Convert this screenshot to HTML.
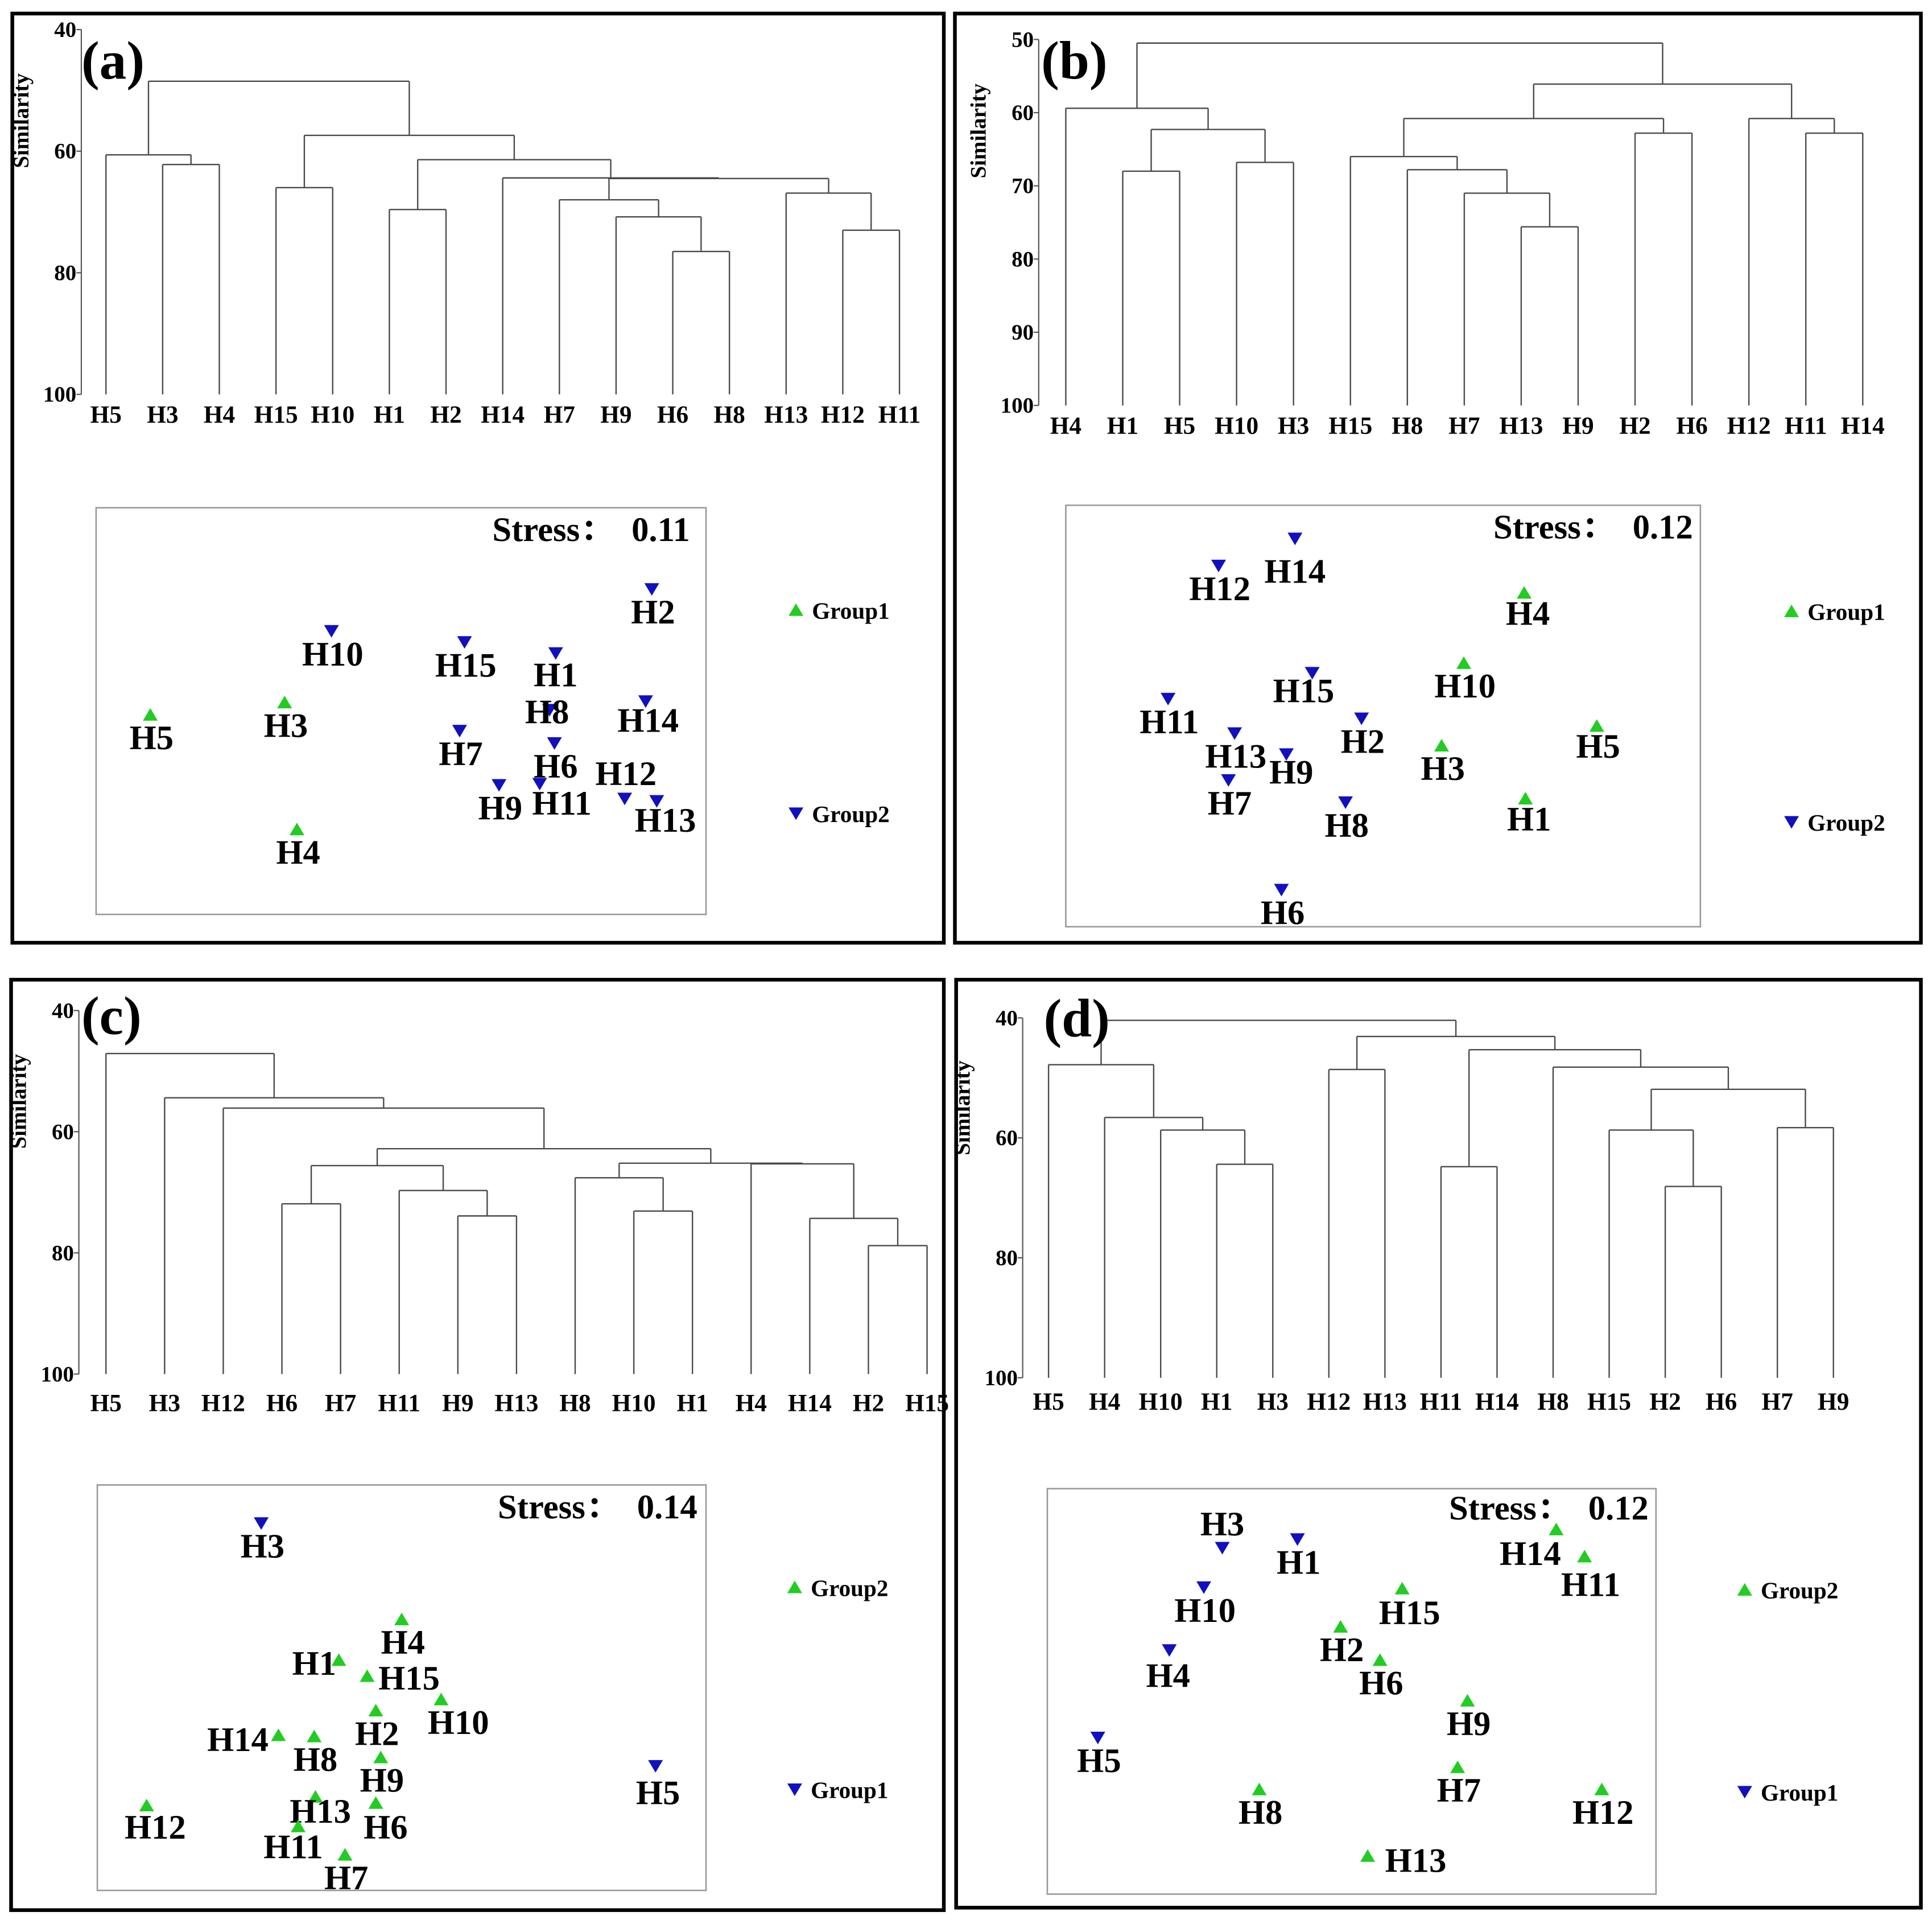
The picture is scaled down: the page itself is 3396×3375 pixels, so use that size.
<!DOCTYPE html>
<html><head><meta charset="utf-8">
<style>
html,body{margin:0;padding:0;background:#fff;}
svg{display:block;}
text{font-family:"Liberation Serif","Noto Serif CJK SC",serif;font-weight:bold;fill:#000;}
</style></head>
<body>
<svg id="fig" width="3396" height="3375" viewBox="0 0 1568 1558" preserveAspectRatio="none" xmlns="http://www.w3.org/2000/svg">
<rect x="0" y="0" width="1568" height="1558" fill="#fff"/>
<g id="root"></g>
</svg>
<script>
// ---------- Panel (a) ----------
const aLeaves = ["H5","H3","H4","H15","H10","H1","H2","H14","H7","H9","H6","H8","H13","H12","H11"];
const aMerges = [["H3","H4",62.2],["H5","#0",60.6],["H15","H10",66.0],["H1","H2",69.6],["H6","H8",76.5],["H9","#4",70.8],["H7","#5",68.0],["H12","H11",73.0],["H13","#7",66.9],["#6","#8",64.5],["H14","#9",64.4],["#3","#10",61.4],["#2","#11",57.4],["#1","#12",48.5]];
const aTicks = [40,60,80,100];
const aNames = ["H2","H10","H15","H1","H14","H8","H6","H7","H9","H11","H12","H13","H5","H3","H4"];
const aDim1 = [529,269,377,451,524,446,450,373,405,438,507,533,122,231,241];
const aDim2 = [478,512,521,530,569,576,603,593,637,636,648,650,580,570,673];
const aGroup = [2,2,2,2,2,2,2,2,2,2,2,2,1,1,1];
const aStress = "0.11";
// ---------- Panel (b) ----------
const bLeaves = ["H4","H1","H5","H10","H3","H15","H8","H7","H13","H9","H2","H6","H12","H11","H14"];
const bMerges = [["H1","H5",68.0],["H10","H3",66.8],["#0","#1",62.3],["H4","#2",59.4],["H13","H9",75.6],["H7","#4",71.0],["H8","#5",67.8],["H15","#6",66.0],["H2","H6",62.8],["#7","#8",60.8],["H11","H14",62.8],["H12","#10",60.8],["#9","#11",56.1],["#3","#12",50.5]];
const bTicks = [50,60,70,80,90,100];
const bNames = ["H12","H14","H4","H10","H15","H11","H2","H13","H3","H5","H9","H7","H8","H1","H6"];
const bDim1 = [989,1051,1237,1188,1065,948,1105,1002,1170,1296,1044,997,1092,1238,1040];
const bDim2 = [459,437,481,538,546,567,583,595,605,589,612,633,651,648,722];
const bGroup = [2,2,1,1,2,2,2,2,1,1,2,2,2,1,2];
const bStress = "0.12";
// ---------- Panel (c) ----------
const cLeaves = ["H5","H3","H12","H6","H7","H11","H9","H13","H8","H10","H1","H4","H14","H2","H15"];
const cMerges = [["H6","H7",71.9],["H9","H13",73.9],["H11","#1",69.7],["#0","#2",65.6],["H10","H1",73.1],["H8","#4",67.6],["H2","H15",78.8],["H14","#6",74.3],["H4","#7",65.3],["#5","#8",65.2],["#3","#9",62.8],["H12","#10",56.1],["H3","#11",54.4],["H5","#12",47.1]];
const cTicks = [40,60,80,100];
const cNames = ["H3","H4","H1","H15","H10","H2","H14","H8","H9","H13","H6","H12","H11","H7","H5"];
const cDim1 = [212,326,275,298,358,305,226,255,309,256,305,119,242,280,532];
const cDim2 = [1236,1314,1347,1360,1379,1388,1408,1409,1426,1458,1463,1465,1482,1505,1433];
const cGroup = [1,2,2,2,2,2,2,2,2,2,2,2,2,2,1];
const cStress = "0.14";
// ---------- Panel (d) ----------
const dLeaves = ["H5","H4","H10","H1","H3","H12","H13","H11","H14","H8","H15","H2","H6","H7","H9"];
const dMerges = [["H1","H3",64.4],["H10","#0",58.7],["H4","#1",56.6],["H5","#2",47.8],["H12","H13",48.6],["H11","H14",64.8],["H2","H6",68.1],["H15","#6",58.7],["H7","H9",58.3],["#7","#8",51.9],["H8","#9",48.2],["#5","#10",45.3],["#4","#11",43.1],["#3","#12",40.4]];
const dTicks = [40,60,80,100];
const dNames = ["H3","H1","H14","H11","H10","H15","H2","H6","H4","H9","H5","H7","H8","H12","H13"];
const dDim1 = [992,1053,1263,1286,977,1138,1088,1120,949,1191,891,1183,1022,1300,1110];
const dDim2 = [1256,1249,1241,1263,1288,1289,1320,1347,1339,1380,1410,1434,1452,1452,1506];
const dGroup = [1,1,2,2,1,2,2,2,1,2,1,2,2,2,2];
const dStress = "0.12";

const NS="http://www.w3.org/2000/svg";
const root=document.getElementById('root');
function mk(tag,attrs,parent){const e=document.createElementNS(NS,tag);for(const k in attrs)e.setAttribute(k,attrs[k]);(parent||root).appendChild(e);return e;}
function txt(s,attrs,parent){const e=mk('text',attrs,parent);e.textContent=s;return e;}

const panels=[
 {id:'a',letter:'(a)',leaves:aLeaves,merges:aMerges,ticks:aTicks,names:aNames,d1:aDim1,d2:aDim2,grp:aGroup,stress:aStress,
  frame:[10,11,756,754],axX:66,lx0:86,step:46,ymin:40,y0:24,y1:320,labY:343,letterXY:[66,64],
  box:[78,412,495,330],stressXY:[560,439],leg1:["Group1",1,646,495],leg2:["Group2",2,646,660],
  lab:{H8:[-2,10],H12:[1,-12],H13:[7,24],H11:[18,24],H1:[0,26],H14:[2,24]}},
 {id:'b',letter:'(b)',leaves:bLeaves,merges:bMerges,ticks:bTicks,names:bNames,d1:bDim1,d2:bDim2,grp:bGroup,stress:bStress,
  frame:[775,11,784,754],axX:843,lx0:865,step:46.2,ymin:50,y0:32,y1:329,labY:352,letterXY:[845,64],
  box:[865,410,515,342],stressXY:[1374,437],leg1:["Group1",1,1454,496],leg2:["Group2",2,1454,667],
  lab:{H14:[0,35],H15:[-7,23],H9:[4,23],H5:[1,25],H1:[3,25],H4:[3,25]}},
 {id:'c',letter:'(c)',leaves:cLeaves,merges:cMerges,ticks:cTicks,names:cNames,d1:cDim1,d2:cDim2,grp:cGroup,stress:cStress,
  frame:[9,795,757,755],axX:64,lx0:86,step:47.6,ymin:40,y0:820,y1:1115,labY:1145,letterXY:[66,839],
  box:[79,1205,494,329],stressXY:[566,1232],leg1:["Group2",2,645,1288],leg2:["Group1",1,645,1452],
  lab:{H1:[-20,11],H15:[34,10],H14:[-33,12],H13:[4,20],H12:[7,26],H11:[-4,25],H10:[14,27],H6:[8,28],H5:[2,30]}},
 {id:'d',letter:'(d)',leaves:dLeaves,merges:dMerges,ticks:dTicks,names:dNames,d1:dDim1,d2:dDim2,grp:dGroup,stress:dStress,
  frame:[776,795,783,753],axX:830,lx0:851,step:45.5,ymin:40,y0:826,y1:1118,labY:1144,letterXY:[847,841],
  box:[850,1208,494,329],stressXY:[1338,1233],leg1:["Group2",2,1416,1290],leg2:["Group1",1,1416,1454],
  lab:{H3:[0,-11],H14:[-21,28],H11:[5,31],H13:[39,12],H15:[6,28],H4:[-1,29]}}
];

function marker(g,grp,x,y,s){
  let pts;
  const up = (g.__up(grp));
  if(up) pts=`${x-s},${y+s*0.8} ${x+s},${y+s*0.8} ${x},${y-s*0.9}`;
  else pts=`${x-s},${y-s*0.8} ${x+s},${y-s*0.8} ${x},${y+s*0.9}`;
  return mk('polygon',{points:pts,fill:up?'#22cc22':'#1010c0'},g);
}

panels.forEach(P=>{
  const g=mk('g',{});
  
  
  const f=P.frame;
  const fr=mk('rect',{x:f[0],y:f[1],width:f[2],height:f[3],fill:'none',stroke:'#000','stroke-width':3},g);
  
  
  const yS=s=>P.y0+(s-P.ymin)/(100-P.ymin)*(P.y1-P.y0);
  const xS=i=>P.lx0+i*P.step;
  const dg=mk('g',{},g);
  
  
  const ax=mk('line',{x1:P.axX,y1:yS(P.ymin),x2:P.axX,y2:yS(100),stroke:'#555','stroke-width':1},dg);
  
  
  P.ticks.forEach(t=>{
    mk('line',{x1:P.axX-4,y1:yS(t),x2:P.axX,y2:yS(t),stroke:'#555','stroke-width':1},dg);
    const tl=txt(String(t),{x:P.axX-4,y:yS(t)+6,'font-size':18,'text-anchor':'end'},dg);
    
    
  });
  const yt=txt('Similarity',{x:0,y:0,'font-size':18,'text-anchor':'middle',transform:`translate(${P.axX-43},${yS(P.ymin+(100-P.ymin)*0.25)}) rotate(-90)`},dg);
  
  
  const pos={};
  P.leaves.forEach((n,i)=>{
    pos[n]={x:xS(i),y:yS(100)};
    const lt=txt(n,{x:xS(i),y:P.labY,'font-size':20,'text-anchor':'middle'},dg);
    
    
  });
  P.merges.forEach((m,k)=>{
    const A=pos[m[0]],B=pos[m[1]],h=yS(m[2]);
    const col='#4a4a4a';
    const l1=mk('line',{x1:A.x,y1:A.y,x2:A.x,y2:h,stroke:col,'stroke-width':1.1},dg);
    
    
    const l2=mk('line',{x1:B.x,y1:B.y,x2:B.x,y2:h,stroke:col,'stroke-width':1.1},dg);
    
    
    const l3=mk('line',{x1:A.x,y1:h,x2:B.x,y2:h,stroke:col,'stroke-width':1.1},dg);
    
    
    pos['#'+k]={x:(A.x+B.x)/2,y:h};
  });
  const le=txt(P.letter,{x:P.letterXY[0],y:P.letterXY[1],'font-size':44},g);
  
  
  const b=P.box;
  const sg=mk('g',{},g);
  
  
  const br=mk('rect',{x:b[0],y:b[1],width:b[2],height:b[3],fill:'none',stroke:'#999','stroke-width':1.2},sg);
  
  
  const st=txt('Stress\uff1a\u00a0 '+P.stress,{x:P.stressXY[0],y:P.stressXY[1],'font-size':28,'text-anchor':'end'},sg);
  
  
  const dS=v=>b[0]+(v-b[0]);
  const eS=v=>b[1]+(v-b[1]);
  sg.__up=grp=>(P.id==='a'||P.id==='b')?grp===1:grp===2;
  P.names.forEach((n,i)=>{
    const x=dS(P.d1[i]),y=eS(P.d2[i]);
    const mkp=marker(sg,P.grp[i],x,y,6);
    
    
    const o=P.lab[n]||[1,27];
    const pl=txt(n,{x:x+o[0],y:y+o[1]+1,'font-size':28,'text-anchor':'middle'},sg);
    
    
  });
  [P.leg1,P.leg2].forEach(L=>{
    const lg=mk('g',{},g);
    
    
    lg.__up=sg.__up;
    marker(lg,L[1],L[2],L[3],6);
    txt(L[0],{x:L[2]+13,y:L[3]+7,'font-size':19},lg);
  });
});
</script>
</body></html>
